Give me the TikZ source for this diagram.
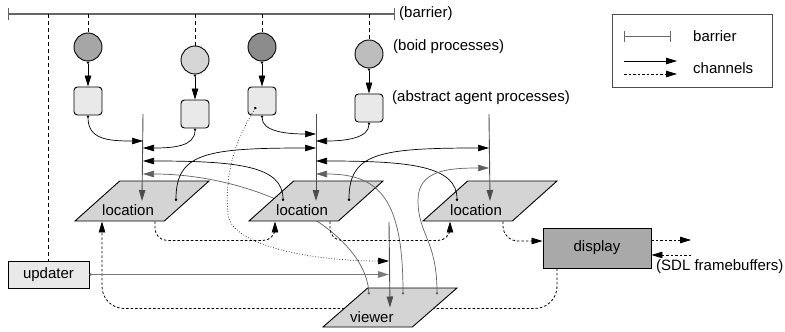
\documentclass[tikz,border=0pt]{standalone}
\usepackage{fontspec}
\setmainfont{Liberation Sans}
\usetikzlibrary{arrows.meta, shapes.geometric, calc}

\definecolor{bar_gray}{HTML}{666666}
\definecolor{hub_gray}{HTML}{4D4D4D}
\definecolor{view_gray}{HTML}{606060}
\definecolor{feed_gray}{HTML}{7A7A7A}
\definecolor{agent_fill}{HTML}{E9E9E9}
\definecolor{place_fill}{HTML}{D4D4D4}
\definecolor{display_fill}{HTML}{A9A9A9}
\definecolor{boid_a}{HTML}{A6A6A6}
\definecolor{boid_b}{HTML}{D5D5D5}
\definecolor{boid_c}{HTML}{8C8C8C}
\definecolor{boid_d}{HTML}{BDBDBD}

\begin{document}
\begin{tikzpicture}[
    x=1pt, y=-1pt,
    font=\fontsize{15}{18}\selectfont,
    >={Triangle[length=11pt, width=6.5pt]},
    boid/.style={
        circle,
        draw,
        line width=0.9pt,
        minimum size=28pt,
        inner sep=0pt,
        fill=#1
    },
    agent/.style={
        rectangle,
        draw,
        line width=0.9pt,
        rounded corners=3.5pt,
        minimum size=28pt,
        fill=agent_fill
    },
    place/.style={
        trapezium,
        trapezium left angle=45,
        trapezium right angle=135,
        trapezium stretches=true,
        draw,
        line width=0.9pt,
        fill=place_fill,
        minimum width=134pt,
        minimum height=40pt
    },
    placelbl/.style={
        anchor=west,
        inner sep=0pt
    },
    proc/.style={
        rectangle,
        draw,
        line width=0.9pt,
        fill=#1,
        inner sep=0pt
    },
    note/.style={
        anchor=west,
        inner sep=0pt
    },
    barrier/.style={
        {Bar[width=12pt]}-{Bar[width=12pt]},
        line width=1.4pt,
        draw=bar_gray
    },
    sync/.style={
        dash pattern=on 4pt off 3pt,
        line width=0.8pt
    },
    chan/.style={
        {Circle[length=2.4pt]}->,
        line width=0.7pt
    },
    vchan/.style={
        chan,
        draw=view_gray
    },
    hub/.style={
        ->,
        line width=0.9pt,
        draw=hub_gray
    },
    ctrl/.style={
        ->,
        dash pattern=on 2.5pt off 2pt,
        line width=0.8pt
    }
]
\useasboundingbox (0,0) rectangle (785,332);

% Barrier and its taps
\coordinate (barL) at (8,14);
\coordinate (barR) at (395,14);
\coordinate (hub1) at (143,114);
\coordinate (hub2) at (316,114);
\coordinate (hub3) at (489,114);
\coordinate (hubv) at (389,222);
\coordinate (sdlout) at (691,240);
\coordinate (sdlin) at (691,255);

\draw[barrier] (barL) -- (barR);
\node[note] (barrierlbl) at (399,14) {(barrier)};

% Boids and their agents
\foreach \i/\x/\by/\ay/\shade in {1/88/47/101/boid_a, 2/195/60/114/boid_b,
                                   3/262/47/101/boid_c, 4/369/54/108/boid_d} {
    \node[boid=\shade] (boid\i) at (\x,\by) {};
    \node[agent] (agent\i) at (\x,\ay) {};
}
\node[note] (boidlbl) at (393,47) {(boid processes)};
\node[note] (agentlbl) at (392,98) {(abstract agent processes)};

% Updater and display
\node[proc=agent_fill, minimum width=81pt, minimum height=27pt] (updater) at (48.5,274.5) {updater};
\node[proc=display_fill, minimum width=108pt, minimum height=40pt] (display) at (597,248) {display};
\node[note] (sdllbl) at (656,267) {(SDL framebuffers)};

\foreach \n in {updater, boid1, boid2, boid3, boid4}
    \draw[sync] (\n.north |- barL) -- (\n.north);

% Locations (drawn in this order so some channels pass behind them)
\node[place] (loc1) at (142,201) {};
\node[placelbl] (loc1lbl) at ($(loc1.center)+(-40,9)$) {location};

\draw[ctrl, rounded corners=22pt] ($(display.south)+(-40,0)$) |- ($(loc1.south)+(-40,87)$) -- ($(loc1.south)+(-40,0)$);

\node[place, minimum height=39pt] (viewer) at (390,307.5) {};
\node[placelbl] (viewerlbl) at ($(viewer.center)+(-40,9.5)$) {viewer};

\draw[vchan] ($(viewer.north)+(-21,7)$) .. controls +(-4,-65) and +(112,0) .. (hub1 |- 0,174);

\node[place] (loc2) at (316,201) {};
\node[placelbl] (loc2lbl) at ($(loc2.center)+(-40,9)$) {location};
\node[place] (loc3) at (490,201) {};
\node[placelbl] (loc3lbl) at ($(loc3.center)+(-40,9)$) {location};

% Boid to agent
\foreach \i in {1,...,4}
    \draw[chan] (boid\i.south) -- (agent\i.north);

% Location channels
\draw[hub] (hub1) -- (loc1.center);
\draw[hub] (hub2) -- (loc2.center);
\draw[hub] (hub3) -- (loc3.center);
\draw[hub] (hubv) -- (viewer.center);

\draw[chan] (agent1.south) .. controls +(0,24) and +(-35,0) .. (hub1 |- 0,141);
\draw[chan] (agent2.south) .. controls +(0,18) and +(30,0) .. (hub1 |- 0,148);
\draw[chan] (agent3.south) .. controls +(0,16) and +(-30,0) .. (hub2 |- 0,134);
\draw[chan] (agent4.south) .. controls +(0,16) and +(28,0) .. (hub2 |- 0,141);

% Neighbouring locations
\draw[chan] ($(loc1.center)+(34,0)$) .. controls +(0,-48) and +(-110,0) .. (hub2 |- 0,148);
\draw[chan] ($(loc2.center)+(-33,0)$) .. controls +(0,-35) and +(95,0) .. (hub1 |- 0,161);
\draw[chan] ($(loc2.center)+(33,0)$) .. controls +(0,-48) and +(-110,0) .. (hub3 |- 0,148);
\draw[chan] ($(loc3.center)+(-33,0)$) .. controls +(0,-35) and +(95,0) .. (hub2 |- 0,161);

% Viewer feeds back
\draw[vchan] ($(viewer.north)+(13,7)$) .. controls +(0,-95) and +(64,0) .. (hub2 |- 0,174);
\draw[vchan] ($(viewer.north)+(47,7)$) .. controls +(0,-55) and +(0,35) .. (418,200)
    .. controls +(0,-30) and +(-40,0) .. (hub3 |- 0,168);

% Updater and agent into the viewer
\draw[chan, line width=1.4pt, draw=feed_gray] (updater.east) -- (hubv |- updater.east);
\draw[chan, dotted] ($(agent3.center)+(-6,6)$) .. controls +(-25,40) and +(-3,-35) .. (228,215)
    .. controls +(4,30) and +(-80,0) .. (hubv |- 0,261);

% Location to location, and out to the display
\draw[ctrl, rounded corners=12pt] ($(loc1.south)+(13,0)$) |- ($(loc2.south)+(-41,19)$) -- ($(loc2.south)+(-41,0)$);
\draw[ctrl, rounded corners=12pt] ($(loc2.south)+(14,0)$) |- ($(loc3.south)+(-40,19)$) -- ($(loc3.south)+(-40,0)$);
\draw[ctrl, rounded corners=15pt] ($(loc3.south)+(13,0)$) |- ($(display.west)+(0,-7)$);
\draw[ctrl] ($(display.east)+(0,-8)$) -- (sdlout);
\draw[ctrl] (sdlin) -- ($(display.east)+(0,7)$);

% Legend
\node[draw=hub_gray, line width=0.8pt, minimum width=160pt, minimum height=73pt, anchor=north west] (legend) at (612,14) {};
\draw[barrier, line width=1pt, {Bar[width=11pt]}-{Bar[width=11pt]}] ($(legend.north west)+(12,22)$) -- ++(47,0);
\draw[->, line width=0.8pt] ($(legend.north west)+(12,47)$) -- ++(53,0);
\draw[ctrl] ($(legend.north west)+(12,60)$) -- ++(53,0);
\node[note] (lgbarrier) at ($(legend.north west)+(81,22)$) {barrier};
\node[note] (lgchannels) at ($(legend.north west)+(81,54)$) {channels};

\end{tikzpicture}
\end{document}
